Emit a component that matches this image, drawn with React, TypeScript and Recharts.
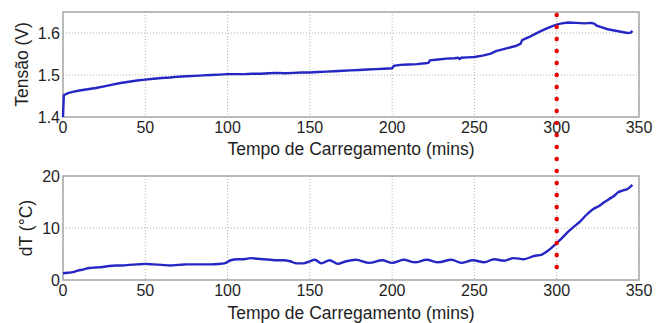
import React from 'react';
import { LineChart, Line, XAxis, YAxis, CartesianGrid, ReferenceLine, ReferenceArea, Label } from 'recharts';

// ---- data ----
const timeTicks = [0, 50, 100, 150, 200, 250, 300, 350];
const voltTicks = [1.4, 1.5, 1.6];
const dTTicks = [0, 10, 20];
const markerTime = 300;

const voltTime = [0, 0.5, 3, 6, 10, 15, 20, 25, 30, 35, 40, 45, 50, 55, 60, 65, 70, 75, 80, 85, 90, 95, 100, 110, 115, 120, 125, 130, 135, 140, 145, 150, 155, 160, 165, 170, 175, 180, 185, 190, 195, 200, 201, 205, 210, 215, 220, 222, 223, 228, 233, 238, 240, 241, 242, 246, 250, 255, 260, 263, 266, 270, 275, 278, 279, 283, 287, 290, 294, 297, 300, 303, 307, 312, 317, 321, 323, 324, 327, 331, 335, 339, 343, 345, 346];
const voltValues = [1.4, 1.452, 1.457, 1.46, 1.463, 1.466, 1.469, 1.473, 1.477, 1.481, 1.484, 1.487, 1.489, 1.491, 1.493, 1.494, 1.496, 1.497, 1.498, 1.499, 1.5, 1.501, 1.502, 1.502, 1.503, 1.503, 1.504, 1.505, 1.504, 1.505, 1.506, 1.506, 1.507, 1.508, 1.509, 1.51, 1.511, 1.512, 1.513, 1.514, 1.515, 1.516, 1.522, 1.524, 1.525, 1.526, 1.528, 1.529, 1.535, 1.537, 1.539, 1.54, 1.541, 1.538, 1.541, 1.542, 1.543, 1.546, 1.551, 1.557, 1.56, 1.564, 1.569, 1.574, 1.583, 1.59, 1.598, 1.604, 1.611, 1.616, 1.62, 1.623, 1.625, 1.624, 1.623, 1.624, 1.622, 1.618, 1.614, 1.609, 1.606, 1.603, 1.6, 1.601, 1.605];

const dTTime = [0, 3, 6, 9, 12, 16, 20, 24, 28, 32, 36, 40, 45, 50, 55, 60, 65, 70, 75, 80, 85, 90, 95, 98, 102, 106, 110, 114, 118, 122, 126, 130, 134, 138, 142, 146, 150, 153, 157, 162, 167, 172, 178, 186, 194, 200, 207, 214, 221, 228, 236, 242, 249, 256, 262, 268, 274, 280, 286, 291, 295, 299, 303, 307, 311, 314, 318, 322, 326, 329, 332, 335, 337, 340, 343, 346];
const dTValues = [1.3, 1.4, 1.5, 1.8, 2.0, 2.3, 2.4, 2.5, 2.7, 2.8, 2.8, 2.9, 3.0, 3.1, 3.0, 2.9, 2.8, 2.9, 3.0, 3.0, 3.0, 3.0, 3.1, 3.2, 3.8, 4.0, 4.0, 4.2, 4.1, 4.0, 3.9, 3.8, 3.8, 3.6, 3.2, 3.2, 3.6, 3.9, 3.2, 3.8, 3.1, 3.6, 3.9, 3.3, 3.8, 3.3, 3.9, 3.4, 3.9, 3.4, 3.9, 3.3, 3.8, 3.4, 4.0, 3.7, 4.2, 4.0, 4.6, 4.9, 5.7, 6.8, 8.0, 9.3, 10.4, 11.2, 12.5, 13.6, 14.3, 15.0, 15.6, 16.2, 16.8, 17.2, 17.5, 18.3];

const voltData = voltTime.map((t, i) => ({ t, v: voltValues[i] }));
const dTData = dTTime.map((t, i) => ({ t, v: dTValues[i] }));

// ---- style ----
const FONT = '"Liberation Sans", Arial, sans-serif';
const TEXT = '#1e1e1e';
const BLUE = '#2626c4';
const W = 665;
const H = 323;

const tickStyle = { fontSize: 16, fill: TEXT, fontFamily: FONT };

const YTitle = (props: any) => {
  const { viewBox, value, baseX } = props;
  const cx = viewBox.x + baseX;
  const cy = viewBox.y + viewBox.height / 2;
  return (
    <text x={cx} y={cy} transform={`rotate(-90, ${cx}, ${cy})`} textAnchor="middle" fontSize={17.5} fill={TEXT} fontFamily={FONT}>
      {value}
    </text>
  );
};

export default function App() {
  return (
    <div style={{ position: 'relative', width: W, height: H, background: '#fff' }}>
      <style>{`body{margin:0}`}</style>
      <div style={{ position: 'absolute', left: 0, top: 0 }}>
        <LineChart width={W} height={H} data={voltData} margin={{ top: 12, right: 26, left: 0, bottom: 166 }}>
          <CartesianGrid stroke="#b0b0b0" strokeDasharray="1 2" />
          <XAxis dataKey="t" type="number" domain={[0, 350]} ticks={timeTicks} axisLine={false} tickLine={false} tickSize={0} tickMargin={5} height={40} tick={tickStyle} interval={0}>
            <Label value="Tempo de Carregamento (mins)" position="insideBottom" offset={2.5} style={{ fontSize: 17.5, fill: TEXT, fontFamily: FONT }} />
          </XAxis>
          <YAxis type="number" domain={[1.4, 1.65]} ticks={voltTicks} axisLine={false} tickLine={false} tickSize={0} tickMargin={3} width={63} tick={tickStyle} tickFormatter={(v: number) => v.toFixed(1)} interval={0}>
            <Label content={<YTitle value="Tensão (V)" baseX={28} />} />
          </YAxis>
          <ReferenceArea x1={0} x2={350} y1={1.4} y2={1.65} fill="none" stroke="#a8a8a8" strokeWidth={1.5} />
          <Line type="linear" dataKey="v" stroke={BLUE} strokeWidth={2.4} dot={false} isAnimationActive={false} />
        </LineChart>
      </div>
      <div style={{ position: 'absolute', left: 0, top: 0 }}>
        <LineChart width={W} height={H} data={dTData} margin={{ top: 176, right: 26, left: 0, bottom: 3 }}>
          <CartesianGrid stroke="#b0b0b0" strokeDasharray="1 2" />
          <XAxis dataKey="t" type="number" domain={[0, 350]} ticks={timeTicks} axisLine={false} tickLine={false} tickSize={0} tickMargin={5} height={40} tick={tickStyle} interval={0}>
            <Label value="Tempo de Carregamento (mins)" position="insideBottom" offset={1.5} style={{ fontSize: 17.5, fill: TEXT, fontFamily: FONT }} />
          </XAxis>
          <YAxis type="number" domain={[0, 20]} ticks={dTTicks} axisLine={false} tickLine={false} tickSize={0} tickMargin={3} width={63} tick={tickStyle} interval={0}>
            <Label content={<YTitle value="dT (°C)" baseX={32} />} />
          </YAxis>
          <ReferenceArea x1={0} x2={350} y1={0} y2={20} fill="none" stroke="#a8a8a8" strokeWidth={1.5} />
          <Line type="monotone" dataKey="v" stroke={BLUE} strokeWidth={2.4} dot={false} isAnimationActive={false} />
          <ReferenceLine
            segment={[{ x: markerTime, y: 2.5 }, { x: markerTime, y: 51 }]}
            ifOverflow="visible"
            stroke="#ee0000"
            strokeWidth={4.5}
            strokeDasharray="0 12"
            strokeLinecap="round"
          />
        </LineChart>
      </div>
    </div>
  );
}
